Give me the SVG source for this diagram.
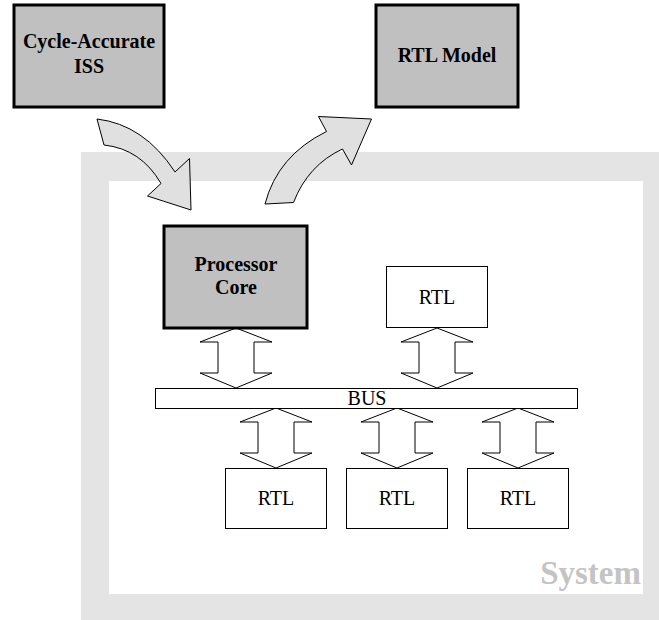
<svg xmlns="http://www.w3.org/2000/svg" width="659" height="620" viewBox="0 0 659 620">
<style>
.lb{font-family:'Liberation Serif','Times New Roman',serif;font-weight:bold;font-size:20px;fill:#000;text-anchor:middle}
.ln{font-family:'Liberation Serif','Times New Roman',serif;font-size:20px;fill:#000;text-anchor:middle}
.thick{fill:#c0c0c0;stroke:#000;stroke-width:3}
.thin{fill:#fff;stroke:#000;stroke-width:1}
.arr{fill:#fff;stroke:#000;stroke-width:1}
.curve{fill:#e0e0e0;stroke:#000;stroke-width:1;stroke-linejoin:miter}
</style>
<defs>
<path id="dbl" d="M0,0 L36,14 L18,14 L18,45 L36,45 L0,60 L-36,45 L-18,45 L-18,14 L-36,14 Z"/>
</defs>
<g id="system">
<rect x="81" y="152" width="578" height="468" fill="#e4e4e4"/>
<rect x="109" y="181" width="534" height="413" fill="#fff"/>
<text x="641" y="584" font-family="Liberation Serif, Times New Roman, serif" font-weight="bold" font-size="33" fill="#c4c4c4" text-anchor="end">System</text>
</g>
<g id="connectors">
<path class="curve" d="M97,119 Q144,124.5 175,172 L189.5,158.5 L191,210 L147.5,196 L161,183.5 Q141,149 104,145 Z"/>
<path class="curve" d="M265,204 Q277.6,155.6 326.5,131.5 L318.5,116.5 L371.5,119 L351.5,165 L342.5,149 Q308,165 293.5,202.5 Z"/>
<use href="#dbl" class="arr" x="236" y="328"/>
<use href="#dbl" class="arr" x="437" y="328"/>
<use href="#dbl" class="arr" x="276" y="408"/>
<use href="#dbl" class="arr" x="397" y="408"/>
<use href="#dbl" class="arr" x="518" y="408"/>
</g>
<g id="iss">
<rect class="thick" x="14" y="5" width="150" height="102"/>
<text class="lb" x="89" y="48">Cycle-Accurate</text>
<text class="lb" x="89" y="73">ISS</text>
</g>
<g id="rtl-model">
<rect class="thick" x="376" y="5" width="142" height="102"/>
<text class="lb" x="447" y="62">RTL Model</text>
</g>
<g id="processor-core">
<rect class="thick" x="164" y="226" width="143" height="102"/>
<text class="lb" x="236" y="271">Processor</text>
<text class="lb" x="236" y="294">Core</text>
</g>
<g id="rtl-top">
<rect class="thin" x="386.5" y="266.5" width="101" height="61"/>
<text class="ln" x="437" y="304">RTL</text>
</g>
<g id="bus">
<rect class="thin" x="155.5" y="388.5" width="422" height="20"/>
<text class="ln" x="367" y="405">BUS</text>
</g>
<g id="rtl-1">
<rect class="thin" x="225.5" y="468.5" width="101" height="60"/>
<text class="ln" x="276" y="505">RTL</text>
</g>
<g id="rtl-2">
<rect class="thin" x="346.5" y="468.5" width="101" height="60"/>
<text class="ln" x="397" y="505">RTL</text>
</g>
<g id="rtl-3">
<rect class="thin" x="467.5" y="468.5" width="101" height="60"/>
<text class="ln" x="518" y="505">RTL</text>
</g>
</svg>
